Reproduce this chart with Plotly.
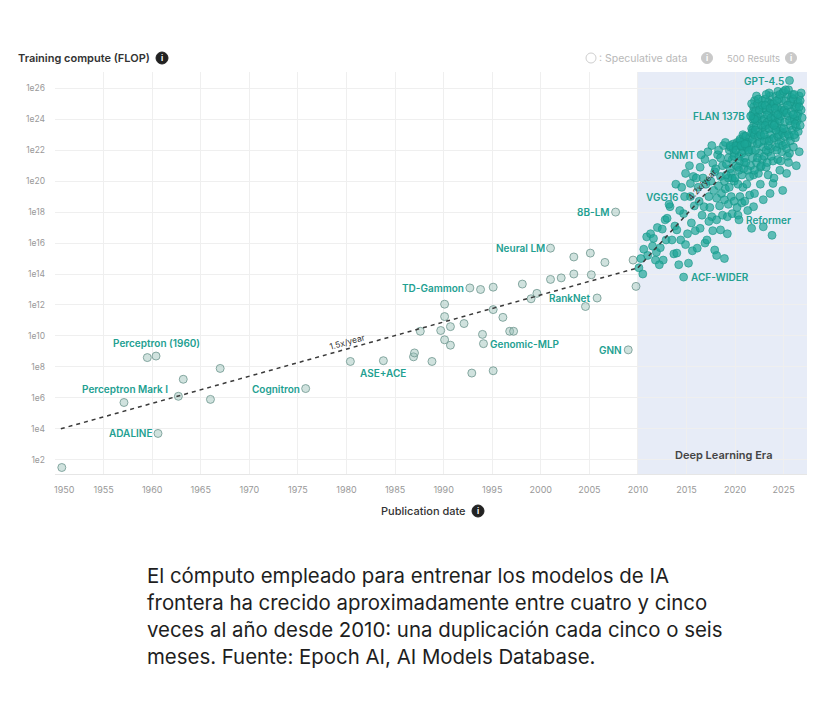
import numpy as np
import plotly.graph_objects as go

# ---------------- data (FLOP given as log10) ----------------
pre_years = [1950.7, 1959.5, 1963.2, 1967.0, 1962.7, 1966.0, 1980.4, 1986.9, 1987.0, 1988.8,
             1987.6, 1990.1, 1990.1, 1989.7, 1990.7, 1990.1, 1990.7, 1992.1, 1992.9, 1995.1,
             1994.0, 1995.1, 1996.1, 1996.8, 1997.2, 1993.8, 1995.1, 1998.1, 1999.6, 1999.0,
             2001.0, 2002.1, 2003.4, 2005.2, 2003.4, 2005.1, 2006.6, 2004.6, 2009.5, 2009.8]
pre_log = [1.5, 8.6, 7.2, 7.9, 6.1, 5.9, 8.35, 8.65, 8.9, 8.35,
           10.3, 12.05, 11.25, 10.35, 10.6, 9.75, 9.4, 10.8, 7.6, 7.75,
           10.1, 11.7, 11.2, 10.3, 10.3, 13.0, 13.15, 13.35, 12.75, 12.4,
           13.65, 13.75, 14.0, 13.95, 15.1, 15.35, 14.75, 11.9, 14.9, 13.2]

dl_years = [
    2010.1, 2010.3, 2010.6, 2010.9, 2010.5, 2011.0,
    2011.3, 2011.6, 2011.8, 2011.5, 2012.0, 2011.9,
    2012.3, 2012.5, 2012.8, 2012.6, 2012.9, 2012.2,
    2013.0, 2013.3, 2013.5, 2013.7, 2013.8, 2013.2, 2013.9,
    2014.0, 2014.2, 2014.4, 2014.0, 2014.7, 2014.9, 2014.5, 2014.3, 2014.9,
    2015.2, 2015.1, 2015.4, 2015.4, 2015.7, 2015.5, 2015.8, 2015.3, 2015.9, 2015.6,
    2016.1, 2016.4, 2016.4, 2016.8, 2016.2, 2016.7, 2016.9, 2016.6, 2016.3, 2016.9, 2016.0,
    2017.1, 2017.7, 2017.6, 2017.9, 2017.3, 2017.5, 2017.2, 2017.8, 2017.4, 2017.9, 2017.6,
    2017.0, 2017.7, 2017.3,
    2018.1, 2018.1, 2018.9, 2018.5, 2018.3, 2018.5, 2018.7, 2018.2, 2018.8, 2018.4, 2018.6,
    2018.9, 2018.0, 2018.3, 2018.7, 2018.9, 2018.5, 2018.1,
    2019.2, 2019.2, 2019.0, 2019.3, 2019.5, 2019.7, 2019.4, 2019.8, 2019.1, 2019.6, 2019.9,
    2019.3, 2019.7, 2019.5, 2019.9, 2019.0, 2019.6, 2019.8, 2019.4, 2019.9,
    2019.1, 2019.3, 2019.5, 2019.7, 2019.9,
    2020.2, 2020.5, 2020.3, 2020.7, 2020.1, 2020.4, 2020.8, 2020.2, 2020.6, 2020.9, 2020.5,
    2020.0, 2020.9, 2020.3, 2020.7, 2021.9, 2020.4, 2020.8, 2020.1, 2020.9, 2020.3,
    2020.1, 2020.3, 2020.5, 2020.7, 2020.9, 2020.6, 2020.8, 2020.7, 2021.9, 2020.5,
    2021.0, 2021.2, 2021.5, 2021.7, 2021.8, 2021.9, 2021.8, 2021.6, 2021.9, 2021.2, 2021.5,
    2021.9, 2021.7, 2021.0, 2021.3, 2021.8, 2021.1, 2021.8, 2021.4, 2021.9, 2022.0, 2021.7,
    2021.5, 2021.3,
    2021.1, 2021.3, 2021.7, 2021.7, 2021.9, 2021.2, 2021.8, 2021.8, 2021.4, 2021.0,
    2022.0, 2022.2, 2022.4, 2022.6, 2022.8, 2022.1, 2022.3, 2022.5, 2022.7, 2022.9, 2022.2,
    2022.4, 2022.6, 2022.9, 2022.9, 2022.0, 2022.3, 2022.5, 2022.7, 2022.1, 2022.8, 2022.4,
    2022.6, 2022.2, 2022.9, 2022.0, 2022.8, 2022.5,
    2022.1, 2022.3, 2022.5, 2022.7, 2022.9, 2022.2, 2022.4, 2022.6, 2022.8, 2022.0, 2022.3,
    2022.7,
    2023.0, 2023.2, 2023.4, 2023.6, 2023.8, 2023.1, 2023.3, 2023.5, 2023.7, 2023.9, 2023.0,
    2023.2, 2023.4, 2023.6, 2023.8, 2023.9, 2023.1, 2023.5, 2023.7, 2023.3, 2023.9, 2023.0,
    2023.6, 2023.2, 2023.8, 2023.4, 2023.9, 2023.1, 2023.5,
    2023.1, 2023.3, 2023.5, 2023.7, 2023.9, 2023.2, 2023.4, 2023.6, 2023.8, 2023.0, 2023.3,
    2023.7, 2023.5,
    2024.0, 2024.2, 2024.4, 2024.6, 2024.8, 2024.1, 2024.3, 2024.5, 2024.7, 2024.9, 2024.0,
    2024.2, 2024.4, 2024.6, 2024.8, 2024.1, 2024.5, 2024.9, 2024.3, 2024.7, 2024.0, 2024.6,
    2024.2, 2024.8, 2024.4, 2024.9,
    2024.1, 2024.3, 2024.5, 2024.7, 2024.9, 2024.2, 2024.4, 2024.6, 2024.8, 2024.0, 2024.3,
    2024.7, 2024.5, 2024.9,
    2025.0, 2025.2, 2025.4, 2025.6, 2025.8, 2025.1, 2025.3, 2025.5, 2025.7, 2025.9, 2025.2,
    2025.4, 2025.6, 2025.3, 2025.6, 2025.0, 2025.9, 2025.5, 2025.1,
    2025.1, 2025.3, 2025.5, 2025.7, 2025.9, 2025.2, 2025.4, 2025.6, 2025.8, 2025.0, 2025.3,
    2025.7, 2025.5,
    2026.0, 2026.2, 2026.4, 2026.1, 2026.3, 2026.5, 2026.6, 2026.2, 2026.4, 2026.6, 2026.0,
    2026.5, 2026.8, 2026.3,
    2026.1, 2026.3, 2026.5, 2026.7, 2026.2, 2026.4, 2026.6, 2026.0, 2026.8, 2026.1, 2026.9,
    2026.7,
]
dl_log = [
    14.4, 15.0, 15.6, 16.4, 14.0, 15.2,
    16.6, 16.3, 14.9, 15.8, 17.0, 15.4,
    15.7, 16.9, 17.5, 14.9, 16.2, 14.6,
    17.6, 18.35, 16.2, 15.3, 17.1, 18.5, 19.8,
    15.35, 14.6, 16.2, 16.85, 17.9, 20.5, 19.6, 18.1, 15.9,
    14.7, 16.6, 19.0, 19.85, 20.3, 17.3, 18.4, 21.0, 16.8, 15.5,
    15.67, 16.95, 20.9, 18.35, 19.6, 20.2, 16.0, 17.8, 18.7, 21.4, 20.2,
    16.2, 21.15, 17.7, 15.55, 19.0, 20.0, 21.9, 19.4, 18.3, 20.6, 22.3,
    19.8, 16.8, 17.4,
    15.2, 17.5, 15.0, 16.85, 19.7, 20.3, 21.0, 21.7, 22.3, 18.4, 19.2,
    20.0, 20.8, 22.0, 17.8, 18.8, 21.5, 18.9,
    17.7, 16.6, 19.5, 20.2, 20.8, 21.4, 22.0, 22.4, 21.1, 19.0, 20.0,
    18.5, 17.9, 22.2, 21.8, 22.5, 20.5, 22.1, 19.6, 18.7,
    20.4, 21.5, 22.3, 20.2, 21.6,
    18.3, 19.0, 19.8, 20.4, 21.0, 21.6, 22.0, 22.5, 22.5, 22.9, 22.6,
    20.2, 21.2, 22.3, 18.6, 24.1, 20.7, 19.6, 22.3, 22.6, 17.8,
    22.0, 20.9, 22.7, 22.2, 20.8, 22.3, 23.0, 21.8, 23.6, 21.3,
    21.5, 22.2, 22.8, 23.4, 24.3, 24.8, 24.0, 21.0, 20.4, 19.8, 19.1,
    18.35, 16.95, 18.7, 20.7, 22.5, 22.9, 23.3, 21.9, 23.1, 25.2, 25.0,
    20.3, 18.1,
    21.2, 22.5, 23.1, 22.0, 24.5, 22.4, 22.7, 21.5, 22.0, 22.4,
    23.0, 23.6, 24.2, 24.8, 25.2, 24.5, 22.4, 21.8, 22.9, 23.5, 21.2,
    20.5, 19.8, 18.8, 17.05, 19.2, 25.0, 23.2, 24.3, 22.0, 21.4, 22.9,
    20.9, 25.5, 24.7, 20.7, 23.9, 24.6,
    23.3, 23.9, 22.5, 23.6, 22.2, 24.1, 25.3, 23.0, 24.9, 24.0, 21.5,
    21.0,
    24.0, 24.6, 25.1, 25.5, 24.8, 23.3, 22.7, 23.9, 22.1, 23.4, 21.6,
    20.9, 21.9, 19.2, 16.5, 19.85, 25.3, 24.4, 25.0, 23.8, 24.2, 22.6,
    23.0, 22.0, 22.7, 20.4, 21.3, 24.9, 25.7,
    23.6, 24.3, 23.4, 24.1, 25.0, 25.6, 22.3, 24.7, 23.7, 23.0, 21.2,
    21.6, 22.6,
    25.0, 25.5, 25.8, 24.6, 25.2, 24.1, 23.5, 24.0, 23.2, 24.4, 22.8,
    22.2, 21.4, 20.7, 21.9, 23.7, 25.3, 25.7, 24.8, 22.6, 20.2, 23.9,
    24.4, 23.4, 22.9, 19.4,
    24.7, 25.2, 23.0, 24.2, 23.1, 23.3, 24.3, 25.6, 24.7, 23.6, 22.0,
    21.3, 22.4, 22.3,
    24.5, 25.2, 25.6, 24.9, 25.4, 23.8, 23.2, 24.2, 23.6, 24.0, 22.4,
    21.6, 22.9, 20.5, 21.8, 25.8, 25.6, 25.9, 22.9,
    24.6, 24.4, 23.0, 25.1, 23.3, 25.9, 24.9, 23.9, 24.5, 23.4, 22.1,
    22.6, 21.2,
    25.3, 24.7, 25.0, 24.0, 23.5, 24.4, 21.9, 22.8, 23.9, 25.5, 22.2,
    25.1, 24.6, 21.0,
    25.6, 24.8, 23.2, 25.2, 23.7, 24.2, 24.8, 24.3, 25.7, 23.0, 24.1,
    23.6,
]

model_names = ["Perceptron (1960)", "Perceptron Mark I", "ADALINE", "Cognitron", "ASE+ACE",
               "TD-Gammon", "Genomic-MLP", "Neural LM", "RankNet", "8B-LM", "GNN",
               "ACF-WIDER", "VGG16", "GNMT", "Reformer", "FLAN 137B", "GPT-4.5"]
model_years = [1960.4, 1957.1, 1960.6, 1975.8, 1983.8, 1992.7, 1994.1, 2001.0, 2005.8,
               2007.7, 2009.0, 2014.7, 2014.8, 2016.5, 2020.4, 2021.6, 2025.6]
model_log = [8.7, 5.7, 3.7, 6.6, 8.4, 13.1, 9.5, 15.67, 12.45, 18.0, 9.1,
             13.8, 19.0, 21.7, 17.5, 24.2, 26.5]

trend_pre_years = [1950.6, 2010.0]
trend_pre_log = [4.0, 14.4]
trend_dl_years = [2010.0, 2020.6]
trend_dl_log = [14.4, 21.7]
trend_labels = ["1.5x/year", "4.2x/year"]

year_ticks = list(range(1950, 2030, 5))
flop_tick_exps = list(range(2, 28, 2))
dl_start = 2010

caption_lines = [
    "El cómputo empleado para entrenar los modelos de IA",
    "frontera ha crecido aproximadamente entre cuatro y cinco",
    "veces al año desde 2010: una duplicación cada cinco o seis",
    "meses. Fuente: Epoch AI, AI Models Database.",
]

# ---------------- geometry helpers (pixel -> paper) ----------------
L, R, T, B, W, H = 55, 8, 72, 236, 815, 710
PW, PH = W - L - R, H - T - B


def px(p):
    return (p - L) / PW


def py(p):
    return (H - B - p) / PH


FONT = "Inter, Roboto, sans-serif"
TEAL = "#22a091"

fig = go.Figure()

my = np.array(model_years)
ml = np.array(model_log)
pre_mask = my < dl_start

pre_marker = dict(size=8, color="rgba(150,190,182,0.45)",
                  line=dict(color="rgba(110,150,142,0.8)", width=1))
dl_marker = dict(size=8, color="rgba(26,165,150,0.68)",
                 line=dict(color="rgba(22,150,135,0.6)", width=1))

fig.add_trace(go.Scatter(x=pre_years + list(my[pre_mask]),
                         y=10 ** np.array(pre_log + list(ml[pre_mask])),
                         mode="markers", marker=pre_marker, hoverinfo="skip"))
fig.add_trace(go.Scatter(x=dl_years + list(my[~pre_mask]),
                         y=10 ** np.array(dl_log + list(ml[~pre_mask])),
                         mode="markers", marker=dl_marker, hoverinfo="skip"))

line_style = dict(color="#3a3a3a", width=1.5, dash="4px,4px")
fig.add_trace(go.Scatter(x=trend_pre_years, y=10 ** np.array(trend_pre_log),
                         mode="lines", line=line_style, hoverinfo="skip"))
fig.add_trace(go.Scatter(x=trend_dl_years, y=10 ** np.array(trend_dl_log),
                         mode="lines", line=line_style, hoverinfo="skip"))

annotations = []


def note(x, y, text, size, color, xanchor="center", weight=400, **kw):
    annotations.append(dict(x=px(x), y=py(y), xref="paper", yref="paper", text=text,
                            showarrow=False, xanchor=xanchor, yanchor="middle",
                            font=dict(family=FONT, size=size, color=color, weight=weight), **kw))


# model labels
placement = {
    "Perceptron (1960)": ("center", 0, 13),
    "Perceptron Mark I": ("center", 1, 13),
    "ASE+ACE": ("center", 0, -12),
    "Genomic-MLP": ("left", 5, 0),
    "ACF-WIDER": ("left", 5, 0),
    "Reformer": ("left", 5, 0),
}
for name, yr, lg in zip(model_names, model_years, model_log):
    anchor, xs, ys = placement.get(name, ("right", -4, 0))
    annotations.append(dict(x=yr, y=lg, xref="x", yref="y", text=name, showarrow=False,
                            xanchor=anchor, yanchor="middle", xshift=xs, yshift=ys,
                            font=dict(family=FONT, size=10, color=TEAL, weight=600)))

# trend labels
annotations.append(dict(x=1980.1, y=9.2, xref="x", yref="y", text=trend_labels[0],
                        showarrow=False, textangle=-15.5, yshift=6, yanchor="middle",
                        font=dict(family=FONT, size=8.5, color="#333")))
annotations.append(dict(x=2017.0, y=19.5, xref="x", yref="y", text=trend_labels[1],
                        showarrow=False, textangle=-48, xshift=-4, yshift=4, yanchor="middle",
                        font=dict(family=FONT, size=8.5, color="#333")))

note(723, 455, "Deep Learning Era", 11, "#444", weight=600)
note(16, 58, "Training compute (FLOP)", 11, "#333", xanchor="left", weight=600)
note(468, 511, "Publication date", 11, "#333", xanchor="right", weight=500)
note(597, 58, ": Speculative data", 10.5, "#b8b8b8", xanchor="left")
note(725, 58, "500 Results", 9.5, "#b8b8b8", xanchor="left")
note(64, 489, "1950", 9, "#999")

# caption
for i, line in enumerate(caption_lines):
    note(145, 575 + i * 27, line, 20.4, "#1e1e1e", xanchor="left")

shapes = [dict(type="rect", xref="x", yref="paper", x0=dl_start, x1=2027.4, y0=0, y1=1,
               fillcolor="#e7ecf7", line=dict(width=0), layer="between")]


def icon(cx, cy, r, fill, line_col=None):
    shapes.append(dict(type="circle", xref="paper", yref="paper",
                       x0=px(cx - r), x1=px(cx + r), y0=py(cy + r), y1=py(cy - r),
                       fillcolor=fill, line=dict(color=line_col or fill, width=1), layer="above"))
    if fill != "rgba(0,0,0,0)":
        note(cx, cy, "i", 8, "white", weight=700)


icon(162, 58, 6, "#222222")
icon(478, 511, 6, "#222222")
icon(707, 58, 5.5, "#c9c9c9")
icon(791, 58, 5.5, "#c9c9c9")
icon(591, 58, 5, "rgba(0,0,0,0)", "#cfcfcf")

fig.update_layout(
    width=W, height=H, margin=dict(l=L, r=R, t=T, b=B),
    paper_bgcolor="white", plot_bgcolor="white", showlegend=False,
    annotations=annotations, shapes=shapes,
    font=dict(family=FONT),
)
fig.update_xaxes(range=[1950, 2027.4], tickvals=year_ticks,
                 ticktext=["" if y == 1950 else str(y) for y in year_ticks],
                 showgrid=True, gridcolor="#efefef", gridwidth=1, zeroline=False,
                 showline=True, linecolor="#e6e6e6", ticks="", ticklabelstandoff=7,
                 tickfont=dict(family=FONT, size=9, color="#999"))
fig.update_yaxes(type="log", range=[1.08, 27.05], tickvals=[10.0 ** e for e in flop_tick_exps],
                 ticktext=[f"1e{e}" for e in flop_tick_exps],
                 showgrid=True, gridcolor="#efefef", gridwidth=1, zeroline=False,
                 showline=False, ticks="", ticklabelstandoff=9,
                 tickfont=dict(family=FONT, size=8.5, color="#999"))

fig.write_html("out.html", config={"displayModeBar": False},
               post_script="document.body.style.margin='0';")
